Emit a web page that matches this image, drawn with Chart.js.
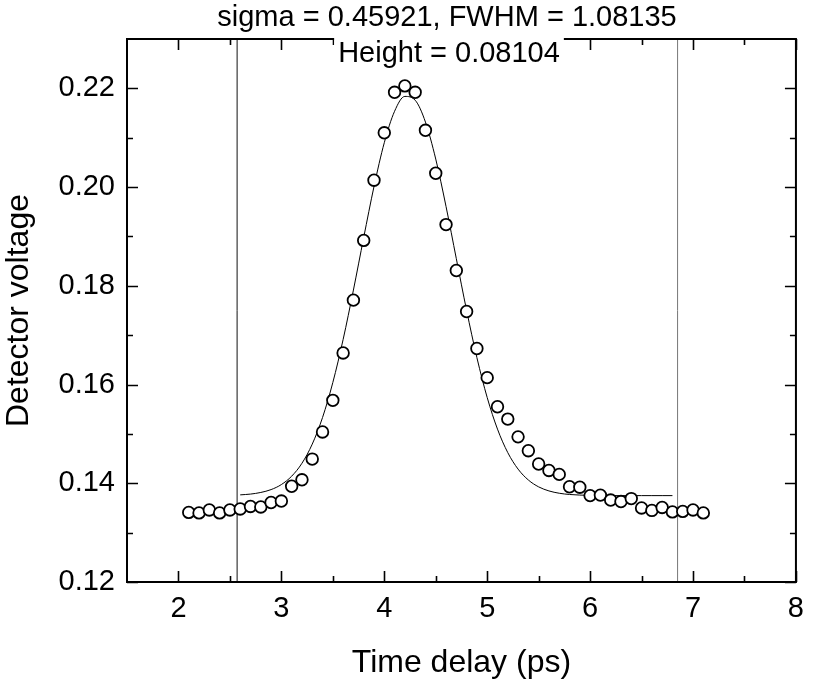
<!DOCTYPE html>
<html>
<head>
<meta charset="utf-8">
<script src="https://cdn.jsdelivr.net/npm/chart.js@4.4.0/dist/chart.umd.min.js"></script>
<style>
    html, body { margin: 0; padding: 0; background: #fff; }
    #wrap { width: 814px; height: 686px; }
</style>
</head>
<body>
<div id="wrap"><canvas id="myChart" width="814" height="686"></canvas></div>
<script>
// measured points
const delays = [2.1, 2.2, 2.3, 2.4, 2.5, 2.6, 2.7, 2.8, 2.9, 3.0,
    3.1, 3.2, 3.3, 3.4, 3.5, 3.6, 3.7, 3.8, 3.9, 4.0,
    4.1, 4.2, 4.3, 4.4, 4.5, 4.6, 4.7, 4.8, 4.9, 5.0,
    5.1, 5.2, 5.3, 5.4, 5.5, 5.6, 5.7, 5.8, 5.9, 6.0,
    6.1, 6.2, 6.3, 6.4, 6.5, 6.6, 6.7, 6.8, 6.9, 7.0, 7.1];
const voltages = [0.1341, 0.1340, 0.1346, 0.1340, 0.1346, 0.1348, 0.1353, 0.1352, 0.1361, 0.1364,
    0.1394, 0.1407, 0.1449, 0.1504, 0.1568, 0.1664, 0.1771, 0.1892, 0.2014, 0.2110,
    0.2192, 0.2205, 0.2192, 0.2115, 0.2028, 0.1924, 0.1831, 0.1748, 0.1673, 0.1614,
    0.1555, 0.1530, 0.1494, 0.1466, 0.1439, 0.1426, 0.1418, 0.1393, 0.1392, 0.1375,
    0.1376, 0.1366, 0.1363, 0.1369, 0.1350, 0.1345, 0.1351, 0.1342, 0.1343, 0.1346, 0.1340];

// fitted curve
const fitDelays = [2.6, 2.7, 2.8, 2.9, 3.0, 3.1, 3.2, 3.3, 3.4, 3.5,
    3.6, 3.7, 3.8, 3.9, 4.0, 4.1, 4.2, 4.3, 4.4, 4.5,
    4.6, 4.7, 4.8, 4.9, 5.0, 5.1, 5.2, 5.3, 5.4, 5.5,
    5.6, 5.7, 5.8, 5.9, 6.0, 6.1, 6.2, 6.3, 6.4, 6.5, 6.6, 6.7, 6.8];
const fitVoltages = [0.13765, 0.13781, 0.13814, 0.13872, 0.13974, 0.14143, 0.14405, 0.14793, 0.15332, 0.16041,
    0.16912, 0.17914, 0.18978, 0.20010, 0.20899, 0.21536, 0.21837, 0.21760, 0.21317, 0.20568,
    0.19608, 0.18550, 0.17501, 0.16545, 0.15737, 0.15097, 0.14621, 0.14287, 0.14066, 0.13927,
    0.13845, 0.13798, 0.13773, 0.13761, 0.13755, 0.13752, 0.13751, 0.13750, 0.13750, 0.13750, 0.13750, 0.13750, 0.13750];

// fit range markers
const rangeStart = 2.57;
const rangeEnd = 6.85;

const xTicks = [2, 3, 4, 5, 6, 7, 8];
const xMinor = [2.5, 3.5, 4.5, 5.5, 6.5, 7.5];
const yTicks = [0.12, 0.14, 0.16, 0.18, 0.20, 0.22];
const yMinor = [0.13, 0.15, 0.17, 0.19, 0.21];

const titleText = "sigma = 0.45921, FWHM = 1.08135";
const heightText = "Height = 0.08104";

const FONT = "'Liberation Sans', Arial, sans-serif";

const framePlugin = {
    id: "frame",
    afterDraw(chart) {
        const ctx = chart.ctx;
        const a = chart.chartArea;
        const xs = chart.scales.x;
        const ys = chart.scales.y;
        ctx.save();
        ctx.strokeStyle = "#000";
        ctx.lineWidth = 2;
        ctx.strokeRect(a.left, a.top, a.right - a.left, a.bottom - a.top);

        ctx.beginPath();
        const tickX = (vals, len) => {
            vals.forEach(v => {
                const px = Math.round(xs.getPixelForValue(v)) + 0.5;
                ctx.moveTo(px, a.bottom); ctx.lineTo(px, a.bottom - len);
                ctx.moveTo(px, a.top); ctx.lineTo(px, a.top + len);
            });
        };
        const tickY = (vals, len) => {
            vals.forEach(v => {
                const py = Math.round(ys.getPixelForValue(v)) + 0.5;
                ctx.moveTo(a.left, py); ctx.lineTo(a.left + len, py);
                ctx.moveTo(a.right, py); ctx.lineTo(a.right - len, py);
            });
        };
        tickX(xTicks, 11);
        tickX(xMinor, 6);
        tickY(yTicks, 11);
        tickY(yMinor, 6);
        ctx.lineWidth = 1.6;
        ctx.stroke();

        ctx.fillStyle = "#000";
        ctx.textAlign = "center";
        ctx.textBaseline = "middle";
        ctx.font = "29px " + FONT;
        ctx.fillText(titleText, 447, 18);

        const w = ctx.measureText(heightText).width;
        ctx.fillStyle = "#fff";
        ctx.fillRect(449 - w / 2 - 4, a.top - 2, w + 8, 30);
        ctx.fillStyle = "#000";
        ctx.fillText(heightText, 449, 54);
        ctx.restore();
    }
};

const ctx = document.getElementById("myChart").getContext("2d");
const myChart = new Chart(ctx, {
    type: "scatter",
    data: {
        datasets: [
            {
                label: "Data",
                data: delays.map((d, i) => ({ x: d, y: voltages[i] })),
                pointRadius: 5.8,
                pointBorderWidth: 1.8,
                pointBackgroundColor: "#fff",
                pointBorderColor: "#000",
                showLine: false
            },
            {
                label: "Fit",
                data: fitDelays.map((d, i) => ({ x: d, y: fitVoltages[i] })),
                showLine: true,
                pointRadius: 0,
                borderColor: "#000",
                borderWidth: 1,
                cubicInterpolationMode: "monotone"
            },
            {
                label: "Start",
                data: [{ x: rangeStart, y: 0.12 }, { x: rangeStart, y: 0.23 }],
                showLine: true,
                pointRadius: 0,
                borderColor: "#111",
                borderWidth: 1
            },
            {
                label: "End",
                data: [{ x: rangeEnd, y: 0.12 }, { x: rangeEnd, y: 0.23 }],
                showLine: true,
                pointRadius: 0,
                borderColor: "#777",
                borderWidth: 1
            }
        ]
    },
    options: {
        responsive: false,
        animation: false,
        layout: { padding: { top: 39, right: 10, left: 0, bottom: 0 } },
        plugins: {
            legend: { display: false },
            tooltip: { enabled: false }
        },
        scales: {
            x: {
                type: "linear",
                min: 1.5,
                max: 8,
                afterBuildTicks: s => { s.ticks = xTicks.map(v => ({ value: v })); },
                afterFit: s => { s.height = 104; },
                grid: { display: false, drawTicks: false },
                border: { display: false },
                ticks: {
                    color: "#000",
                    font: { family: FONT, size: 29 },
                    padding: 10,
                    maxRotation: 0,
                    autoSkip: false
                },
                title: {
                    display: true,
                    text: "Time delay (ps)",
                    color: "#000",
                    font: { family: FONT, size: 32 },
                    padding: { top: 0, bottom: 4 }
                }
            },
            y: {
                type: "linear",
                min: 0.12,
                max: 0.23,
                afterBuildTicks: s => { s.ticks = yTicks.map(v => ({ value: v })); },
                afterFit: s => { s.width = 127; },
                grid: { display: false, drawTicks: false },
                border: { display: false },
                ticks: {
                    color: "#000",
                    font: { family: FONT, size: 29 },
                    padding: 12,
                    callback: v => v.toFixed(2)
                },
                title: {
                    display: true,
                    text: "Detector voltage",
                    color: "#000",
                    font: { family: FONT, size: 32 },
                    padding: { top: 0, bottom: 6 }
                }
            }
        }
    },
    plugins: [framePlugin]
});
</script>
</body>
</html>
